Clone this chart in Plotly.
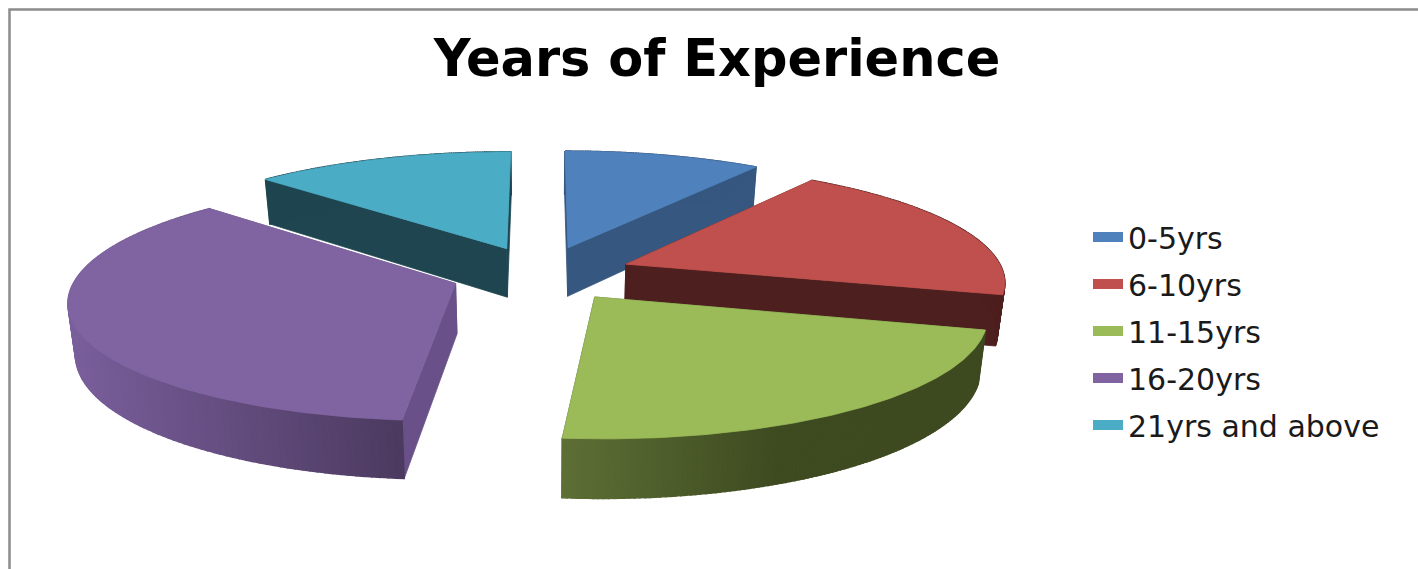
import numpy as np
import plotly.graph_objects as go

categories = ["0-5yrs", "6-10yrs", "11-15yrs", "16-20yrs", "21yrs and above"]
values = [9.75, 19.45, 22.25, 35.65, 12.9]
top_colors = ["#4f81bd", "#c0504d", "#9bbb59", "#8064a2", "#4bacc6"]
start_wall_colors = ["#36577f", "#4d1f1e", "#56682f", "#6a5088", "#1f4650"]
end_wall_colors = ["#36577f", "#4d1f1e", "#3f4b20", "#6a5088", "#1f4650"]
outer_wall_left = ["#36577f", "#4d1f1e", "#5d7036", "#7a5f9c", "#1f4650"]
outer_wall_right = ["#36577f", "#4d1f1e", "#3e4a20", "#4c3a60", "#1f4650"]
title_text = "Years of Experience"

W, H = 1418, 569
CX, CY = 541.5, 273.5
RX, A, P = 378, 116, 0.134
EXPLODE = 0.24
DEPTH = 50
BOTTOM_SHRINK = 0.984


def project(u, v, drop=0.0):
    s = 1.0 / (1.0 + P * v)
    k = BOTTOM_SHRINK if drop else 1.0
    return CX + RX * u * s * k, CY - A * v * s + drop * s


def hex_rgb(h):
    return np.array([int(h[i:i + 2], 16) for i in (1, 3, 5)], dtype=float)


def mix(a, b, t):
    c = hex_rgb(a) * (1 - t) + hex_rgb(b) * t
    return "rgb(%d,%d,%d)" % tuple(c.round())


def poly(pts, color, width=0.8):
    xs = [p[0] for p in pts] + [pts[0][0]]
    ys = [p[1] for p in pts] + [pts[0][1]]
    return go.Scatter(
        x=xs, y=ys, mode="lines", fill="toself", fillcolor=color,
        line=dict(color=color, width=width), showlegend=False, hoverinfo="skip",
    )


total = sum(values)
edges = np.cumsum([0] + values) / total * 2 * np.pi
slices = []
for i in range(len(categories)):
    a0, a1 = edges[i], edges[i + 1]
    mid = (a0 + a1) / 2
    slices.append((np.cos(mid), i, a0, a1, EXPLODE * np.sin(mid), EXPLODE * np.cos(mid)))

fig = go.Figure()

# legend entries, in category order
for name, col in zip(categories, top_colors):
    fig.add_trace(go.Scatter(x=[None], y=[None], mode="lines", name=name,
                             legendgroup=name, line=dict(color=col, width=13),
                             hoverinfo="skip"))

# painter's order: farthest slice first
for _, i, a0, a1, ou, ov in sorted(slices, key=lambda t: -t[0]):
    ang = np.linspace(a0, a1, 120)
    apex = (ou, ov)
    rim = [(ou + np.sin(t), ov + np.cos(t)) for t in ang]
    for edge, col in ((rim[0], start_wall_colors[i]), (rim[-1], end_wall_colors[i])):
        fig.add_trace(poly([project(*apex), project(*edge),
                            project(*edge, DEPTH), project(*apex, DEPTH)], col))
    x_all = [project(*q)[0] for q in rim]
    x_lo, x_hi = min(x_all), max(x_all)
    for j in range(len(rim) - 1):
        if i == 2:  # green wall reaches its darkest tone part way along
            t = min((x_all[j] - x_lo) / 220.0, 1)
        else:
            t = (x_all[j] - x_lo) / max(x_hi - x_lo, 1)
        col = mix(outer_wall_left[i], outer_wall_right[i], t)
        fig.add_trace(poly([project(*rim[j]), project(*rim[j + 1]),
                            project(*rim[j + 1], DEPTH), project(*rim[j], DEPTH)], col, 1.5))
    fig.add_trace(poly([project(*apex)] + [project(*q) for q in rim], top_colors[i]))

fig.update_layout(
    width=W, height=H, margin=dict(l=0, r=0, t=0, b=0),
    paper_bgcolor="white", plot_bgcolor="white",
    xaxis=dict(range=[0, W], visible=False, fixedrange=True),
    yaxis=dict(range=[H, 0], visible=False, fixedrange=True),
    title=dict(text="<b>" + title_text + "</b>", x=717 / W, xanchor="center",
               y=1 - 58 / H, yanchor="middle",
               font=dict(family="DejaVu Sans", size=51, color="black")),
    legend=dict(x=1088 / W, y=1 - 211 / H, xanchor="left", yanchor="top",
                traceorder="grouped", tracegroupgap=5, itemwidth=30,
                font=dict(family="DejaVu Sans", size=30, color="#1a1a1a"),
                bgcolor="rgba(0,0,0,0)"),
    shapes=[dict(type="path", path="M 9.5 569 L 9.5 9.5 L 1418 9.5",
                 line=dict(color="#8c8c8c", width=2.5), layer="below")],
)
fig.write_html("out.html", post_script="document.body.style.margin='0';",
               config={"displayModeBar": False})
